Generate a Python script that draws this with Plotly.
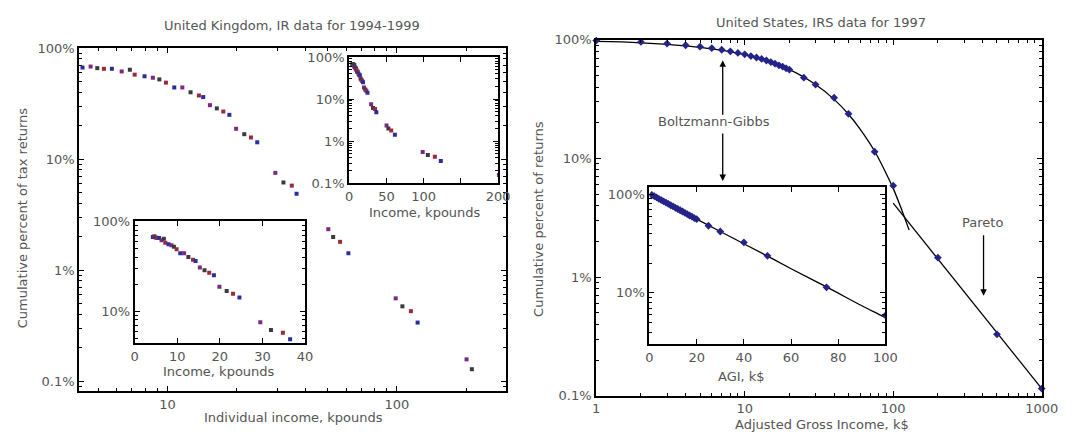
import plotly.graph_objects as go

# ---------------- United Kingdom, Inland Revenue data ----------------
uk_income = [4.26, 4.62, 4.94, 5.28, 5.72, 6.31, 6.85, 7.19, 7.94, 8.63, 9.21, 9.84,
             10.7, 11.6, 12.6, 13.7, 14.3, 15.3, 16.4, 17.5, 18.6, 19.9, 21.6, 23.1,
             24.6, 29.5, 32.0, 34.8, 36.5, 50.2, 52.7, 56.5, 61.4, 98.7, 105.6, 115.0,
             123.0, 201.0, 212.0]
uk_percent = [67.0, 68.4, 66.2, 65.3, 65.3, 61.8, 64.0, 57.8, 55.9, 54.2, 52.4, 49.0,
              44.3, 44.3, 40.1, 37.5, 36.3, 30.7, 28.7, 26.9, 25.1, 18.8, 16.8, 15.7,
              14.2, 7.53, 6.17, 5.78, 4.88, 2.34, 1.99, 1.80, 1.42, 0.557, 0.472, 0.427,
              0.337, 0.157, 0.128]

# ---------------- United States, IRS data for 1997 ----------------
us_agi = [1, 2, 3, 4, 5, 6, 7, 8, 9, 10, 11, 12, 13, 14, 15, 16, 17, 18, 19, 20,
          25, 30, 40, 50, 75, 100, 200, 500, 1000]
us_percent = [98.5, 96.0, 93.0, 90.0, 87.5, 85.0, 82.5, 80.0, 77.5, 75.5, 73.0, 71.0,
              69.0, 67.0, 65.0, 63.0, 61.0, 59.5, 57.5, 56.0, 48.0, 42.0, 32.5, 23.8,
              11.4, 5.9, 1.46, 0.33, 0.115]

# Boltzmann-Gibbs (exponential) fit curve
bg_agi = [0, 1, 2, 5, 10, 20, 30, 40, 50, 60, 75, 90, 100, 115, 128]
bg_percent = [100, 97.0, 94.4, 86.5, 74.9, 56.1, 42.0, 31.5, 23.6, 17.6, 11.5, 7.4,
              5.6, 3.6, 2.5]

# Pareto (power-law) fit line
pareto_agi = [100, 1000]
pareto_percent = [4.2, 0.115]

pct_vals = [0.1, 1, 10, 100]
pct_text = ["0.1%", "1%", "10%", "100%"]

W, H = 1078, 441
FONT = "DejaVu Sans, Verdana, sans-serif"
FS = 13
TXT = "#555555"
uk_colors = ["#2c2ca0", "#7a2a80", "#3a3a3a", "#9a2a3a"]
us_color = "#23238a"


def px(x):
    return x / W


def py(y):
    return 1 - y / H


def log_minor(lo, hi):
    """Minor tick positions 2..9 x 10^k for decades lo..hi."""
    vals = []
    for k in range(lo, hi + 1):
        for d in range(2, 10):
            vals.append(d * 10.0 ** k)
    return vals


def frame(dom, rng, anchor, minor=None, **kw):
    ax = dict(domain=dom, range=rng, anchor=anchor,
              showline=True, linecolor="black", linewidth=2, mirror="allticks",
              ticks="inside", ticklen=5, tickwidth=1.3, tickcolor="black",
              showgrid=False, zeroline=False,
              tickfont=dict(family=FONT, size=FS, color=TXT))
    if minor is not None:
        ax["type"] = "log"
        ax["minor"] = dict(tickmode="array", tickvals=minor, ticks="inside",
                           ticklen=3, tickwidth=1, tickcolor="black", showgrid=False)
    ax.update(kw)
    return ax


fig = go.Figure()

uk_marker_colors = [uk_colors[i % len(uk_colors)] for i in range(len(uk_income))]
for xa, ya, clip in [("x", "y", False), ("x2", "y2", True), ("x3", "y3", True)]:
    fig.add_trace(go.Scatter(
        x=uk_income, y=uk_percent, mode="markers", xaxis=xa, yaxis=ya,
        cliponaxis=clip,
        marker=dict(symbol="square", size=4, color=uk_marker_colors,
                    line=dict(width=0)),
        showlegend=False))

# US main panel: fit lines and data
fig.add_trace(go.Scatter(x=bg_agi[1:], y=bg_percent[1:], mode="lines",
                         xaxis="x4", yaxis="y4",
                         line=dict(color="black", width=1.3, shape="spline"),
                         showlegend=False))
fig.add_trace(go.Scatter(x=pareto_agi, y=pareto_percent, mode="lines",
                         xaxis="x4", yaxis="y4", line=dict(color="black", width=1.3),
                         showlegend=False))
fig.add_trace(go.Scatter(x=us_agi, y=us_percent, mode="markers", xaxis="x4", yaxis="y4",
                         cliponaxis=False,
                         marker=dict(symbol="diamond", size=6, color=us_color,
                                     line=dict(width=0)),
                         showlegend=False))

# US inset: linear AGI
fig.add_trace(go.Scatter(x=bg_agi, y=bg_percent, mode="lines", xaxis="x5", yaxis="y5",
                         line=dict(color="black", width=1.3, shape="spline"),
                         showlegend=False))
fig.add_trace(go.Scatter(x=us_agi, y=us_percent, mode="markers", xaxis="x5", yaxis="y5",
                         marker=dict(symbol="diamond", size=6, color=us_color,
                                     line=dict(width=0)),
                         showlegend=False))

layout = dict(
    width=W, height=H, autosize=False,
    margin=dict(l=0, r=0, t=0, b=0),
    paper_bgcolor="white", plot_bgcolor="white",
    font=dict(family=FONT, size=FS, color=TXT),
    showlegend=False,
)

pct_minor = log_minor(-2, 1)

# UK main
layout["xaxis"] = frame([px(76.7), px(511.7)], [0.615, 2.474], "y", minor=log_minor(0, 2),
                        tickvals=[10, 100], ticktext=["10", "100"])
layout["yaxis"] = frame([py(397.5), py(42.7)], [-1.089, 2.0], "x", minor=pct_minor,
                        tickvals=pct_vals, ticktext=pct_text)
# UK upper-right inset
layout["xaxis2"] = frame([px(352), px(504)], [0, 200], "y2",
                         tickvals=[0, 50, 100, 150, 200], ticktext=["0", "50", "100", "", "200"])
layout["yaxis2"] = frame([py(182.5), py(51.7)], [-1, 2], "x2", minor=pct_minor,
                         tickvals=pct_vals, ticktext=pct_text)
# UK lower-left inset
layout["xaxis3"] = frame([px(133.3), px(307)], [0, 40], "y3",
                         tickvals=[0, 10, 20, 30, 40])
layout["yaxis3"] = frame([py(348), py(222)], [0.645, 2], "x3", minor=pct_minor,
                         tickvals=[10, 100], ticktext=["10%", "100%"])
# US main
layout["xaxis4"] = frame([px(604), px(1058.3)], [0, 3], "y4", minor=log_minor(0, 2),
                         tickvals=[1, 10, 100, 1000], ticktext=["1", "10", "100", "1000"])
layout["yaxis4"] = frame([py(402.5), py(34)], [-1, 2], "x4", minor=pct_minor,
                         tickvals=pct_vals, ticktext=pct_text)
# US inset
layout["xaxis5"] = frame([px(658.3), px(899)], [0, 100], "y5",
                         tickvals=[0, 20, 40, 60, 80, 100])
layout["yaxis5"] = frame([py(349), py(186)], [0.48, 2.078], "x5", minor=pct_minor,
                         tickvals=[10, 100], ticktext=["10%", "100%"])

fig.update_layout(**layout)


def label(text, x, y, angle=0, size=FS):
    fig.add_annotation(text=text, x=px(x), y=py(y), xref="paper", yref="paper",
                       showarrow=False, textangle=angle,
                       font=dict(family=FONT, size=size, color=TXT),
                       xanchor="center", yanchor="middle")


label("United Kingdom, IR data for 1994-1999", 294, 19)
label("Individual income, kpounds", 295, 425)
label("Cumulative percent of tax returns", 19, 218, angle=-90)
label("Income, kpounds", 429, 213)
label("Income, kpounds", 219, 377)

label("United States, IRS data for 1997", 833, 16)
label("Adjusted Gross Income, k$", 834, 432)
label("Cumulative percent of returns", 545, 219, angle=-90)
label("AGI, k$", 752, 382)
label("Boltzmann-Gibbs", 724, 119)
label("Pareto", 998, 223)


def arrow(x, y_tail, y_head):
    fig.add_annotation(text="", x=px(x), y=py(y_head), xref="paper", yref="paper",
                       ax=0, ay=y_tail - y_head, axref="pixel", ayref="pixel",
                       showarrow=True, arrowhead=2, arrowsize=1, arrowwidth=1.3,
                       arrowcolor="black")


arrow(733, 111, 55)
arrow(733, 131, 180)
arrow(999, 237, 299)

fig.write_html("out.html")
